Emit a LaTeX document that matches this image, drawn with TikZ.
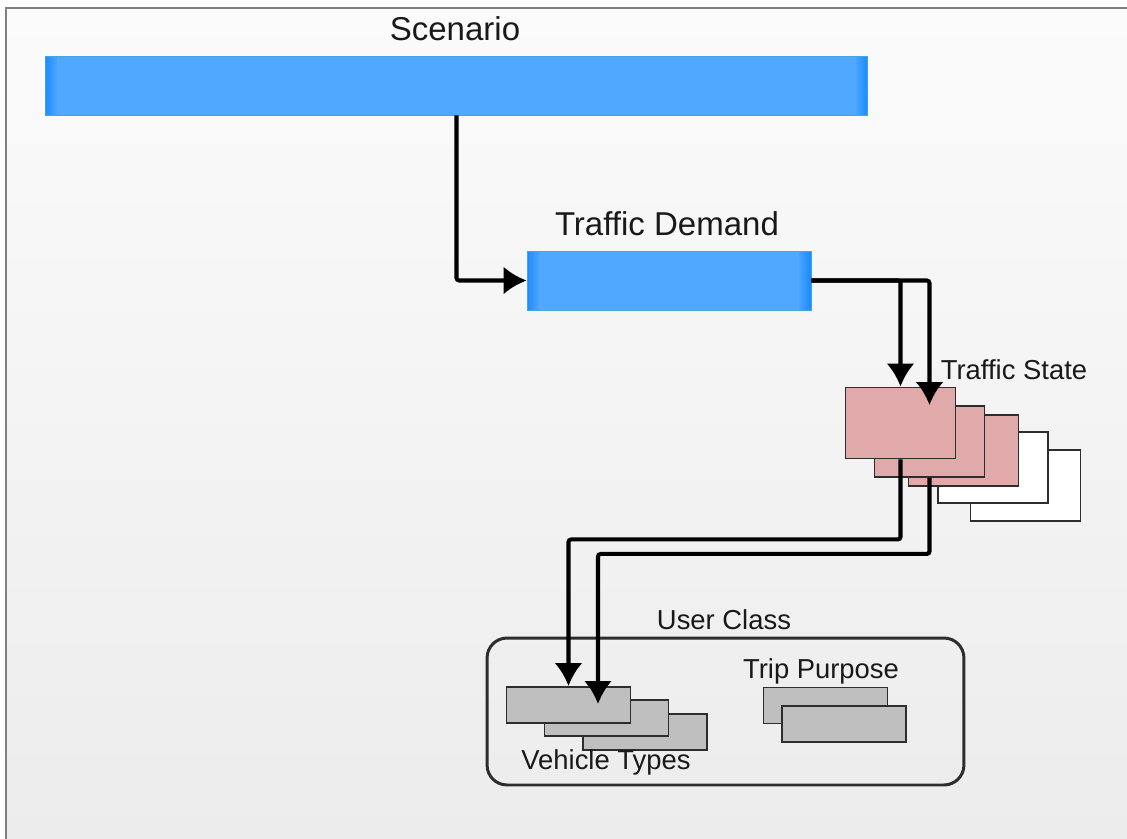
\documentclass[tikz,border=0pt]{standalone}
\usepackage{fontspec}
\setmainfont{Liberation Sans}
\usepackage{tikz}
\usetikzlibrary{positioning, calc, arrows.meta}

\begin{document}
\begin{tikzpicture}
    [x=0.02cm, y=-0.02cm,
    post/.style={-{Latex[length=0.46cm,width=0.56cm]}, draw, line width=2.3pt, rounded corners=1.5pt},
    % darker strips fading in from both short ends
    levelbar/.style={rectangle, draw=bluerim, line width=0.5pt, fill=bluebody, minimum width=#1, minimum height=1.18cm, inner sep=0pt,
        path picture={\foreach \k [evaluate=\k as \p using int(100-16*\k)] in {0,...,5} {
                \fill[blueedge!\p!bluebody] ([xshift=\k*0.04cm]path picture bounding box.south west) rectangle ([xshift=\k*0.04cm+0.041cm]path picture bounding box.north west);
                \fill[blueedge!\p!bluebody] ([xshift=-\k*0.04cm]path picture bounding box.south east) rectangle ([xshift=-\k*0.04cm-0.041cm]path picture bounding box.north east);}}},
    statebox/.style={rectangle, draw=edgegray, line width=1.1pt, minimum width=2.2cm, minimum height=1.42cm, inner sep=0pt},
    classbox/.style={rectangle, draw=edgegray, fill=boxgray, line width=1.1pt, minimum width=2.48cm, minimum height=0.72cm, inner sep=0pt},
    headtxt/.style={font=\fontsize{18.8}{22}\selectfont, text=textgray, inner sep=0pt},
    labeltxt/.style={font=\fontsize{15.6}{18}\selectfont, text=textgray, inner sep=0pt}]
    \definecolor{blueedge}{RGB}{30,140,255};
    \definecolor{bluebody}{RGB}{80,168,255};
    \definecolor{bluerim}{RGB}{70,165,225};
    \definecolor{pinkstate}{RGB}{224,170,170};
    \definecolor{boxgray}{RGB}{191,191,191};
    \definecolor{edgegray}{RGB}{45,45,45};
    \definecolor{textgray}{RGB}{25,25,25};
    \definecolor{bgtop}{RGB}{251,251,251};
    \definecolor{bgbottom}{RGB}{236,236,236};
    \useasboundingbox (0,0) rectangle (1127,839);
    \shade[top color=bgtop, bottom color=bgbottom] (6,8) rectangle (1127,839);
    \draw[gray, line width=1pt] (6,839) -- (6,8) -- (1127,8);
    % bars
    \node [levelbar=16.46cm] (Scen) at (456.5,85.5) {};
    \node [headtxt] (ScenLbl) at (455,29) {Scenario};
    \node [levelbar=5.68cm] (Demand) at (669,280.5) {};
    \node [headtxt] (DemandLbl) at (667,224) {Traffic Demand};
    % traffic state stack
    \node [statebox, fill=white] (State5) at (1025.5,485.5) {};
    \node [statebox, fill=white] (State4) at (993,467.5) {};
    \node [statebox, fill=pinkstate] (State3) at (963.5,450.5) {};
    \node [statebox, fill=pinkstate] (State2) at (929.5,441.5) {};
    \node [statebox, fill=pinkstate] (State1) at (900.5,423) {};
    \node [labeltxt] (StateLbl) at (1014,370) {Traffic State};
    % user class
    \node [rectangle, draw=edgegray, line width=1.7pt, rounded corners=0.4cm, minimum width=9.54cm, minimum height=2.94cm] (User) at (725.5,711.5) {};
    \node [labeltxt] (UserLbl) at (724,620) {User Class};
    \node [classbox] (Veh3) at (645,732) {};
    \node [classbox] (Veh2) at (606.5,718) {};
    \node [classbox] (Veh1) at (568.5,705) {};
    \node [labeltxt] (VehLbl) at (606,762) {Vehicle Types};
    \node [classbox] (Trip1) at (825.5,705.5) {};
    \node [classbox] (Trip2) at (844,724) {};
    \node [labeltxt] (TripLbl) at (821,671) {Trip Purpose};
    \coordinate (VehIn) at (598,704);
    % connectors
    \draw[post] (Scen.south) |- (Demand.west);
    \draw[post] (Demand.east) -| (State1.north);
    \draw[post] (Demand.east) -| (State2.north);
    \draw[post] (State1.south) -- ++(0,80) -| (Veh1.north);
    \draw[post] (State2.south) -- ++(0,76) -| (VehIn);
\end{tikzpicture}
\end{document}
